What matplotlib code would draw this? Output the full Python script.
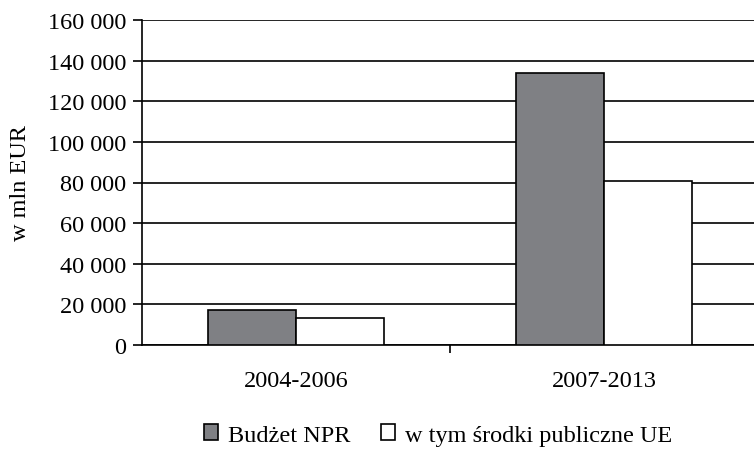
import numpy as np
import matplotlib
matplotlib.use('Agg')
from matplotlib import pyplot as plt
from matplotlib.ticker import FuncFormatter

periods = ['2004-2006', '2007-2013']
budzet_npr = [17300, 134000]
srodki_ue = [13400, 80500]
series_names = ['Budżet NPR', 'w tym środki publiczne UE']

plt.rcParams['font.family'] = ['Liberation Serif', 'DejaVu Serif']
plt.rcParams['font.size'] = 17.5

fig = plt.figure(figsize=(7.54, 4.56), dpi=100)
ax = fig.add_axes([142 / 754, 1 - 346 / 456, 616 / 754, 325 / 456])

x = np.arange(len(periods))
w = 0.286
ax.bar(x - w / 2, budzet_npr, w, color='#7f8084', edgecolor='black', linewidth=1.2,
       label=series_names[0], zorder=3)
ax.bar(x + w / 2, srodki_ue, w, color='white', edgecolor='black', linewidth=1.2,
       label=series_names[1], zorder=3)

ax.set_xlim(-0.5, 1.5)
ax.set_ylim(0, 160000)
ax.set_yticks(np.arange(0, 160001, 20000))
ax.yaxis.set_major_formatter(FuncFormatter(lambda v, p: '{:,.0f}'.format(v).replace(',', ' ')))
ax.grid(axis='y', color='black', linewidth=1.2, zorder=0)
ax.set_axisbelow(True)

ax.set_xticks([0.5])
ax.set_xticklabels([''])
ax.tick_params(axis='x', length=6, width=1.2, direction='out')
ax.tick_params(axis='y', length=6.5, width=1.2, direction='out', pad=5)
for i, p in enumerate(periods):
    ax.text(i, -12500, p, ha='center', va='top')

for s in ['top', 'right']:
    ax.spines[s].set_visible(False)
ax.spines['left'].set_linewidth(1.2)
ax.spines['bottom'].set_linewidth(1.2)

ax.set_ylabel('w mln EUR', labelpad=12)

fig.legend(loc='center', bbox_to_anchor=(438 / 754, 1 - 436 / 456), ncol=2, frameon=False,
           handlelength=0.58, handleheight=0.58, handletextpad=0.42, columnspacing=1.25,
           borderpad=0)

fig.savefig('out.png', dpi=100)
